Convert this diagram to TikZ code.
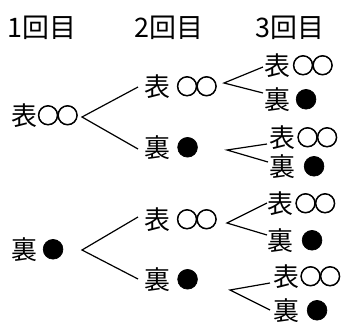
\documentclass[tikz,border=0pt]{standalone}
\usepackage{fontspec}
\setmainfont{Noto Sans CJK JP}
\newfontfamily\circfont[FakeBold=3]{Noto Sans CJK JP}
\newcommand\csz{\circfont\fontsize{22}{22}\selectfont}
\newcommand\omaru{{\csz\raisebox{1.4bp}{○\kern-2.4bp○}}}
\newcommand\kmaru{{\csz\raisebox{1.4bp}{●}}}
\begin{document}
\begin{tikzpicture}[x=1bp,y=-1bp,
  lbl/.style={inner sep=0pt, anchor=west, text height=23bp, text depth=3bp,
    font=\fontsize{26}{26}\selectfont},
  hdr/.style={lbl, font=\fontsize{27}{27}\selectfont},
  conn/.style={line width=1.2bp}]
\useasboundingbox (0,0) rectangle (343,322);
% headers
\node[hdr] (h1) at (7,27) {1回目};
\node[hdr] (h2) at (134,27) {2回目};
\node[hdr] (h3) at (255,27) {3回目};
% level 1
\node[lbl] (a) at (11,115) {表\omaru};
\node[lbl] (b) at (11,249) {裏\kern5bp\kmaru};
% level 2
\node[lbl] (aa) at (144,86) {表\kern6bp\omaru};
\node[lbl] (ab) at (144,147) {裏\kern6.5bp\kmaru};
\node[lbl] (ba) at (144,219) {表\kern6bp\omaru};
\node[lbl] (bb) at (144,279) {裏\kern6.5bp\kmaru};
% level 3
\node[lbl] (aaa) at (264,65) {表\kern2bp\omaru};
\node[lbl] (aab) at (264,99) {裏\kern5bp\kmaru};
\node[lbl] (aba) at (269,137) {表\kern1.5bp\omaru};
\node[lbl] (abb) at (269,166) {裏\kern8bp\kmaru};
\node[lbl] (baa) at (267,203) {表\kern1.5bp\omaru};
\node[lbl] (bab) at (267,240) {裏\kern8bp\kmaru};
\node[lbl] (bba) at (273,276) {表\kern0.5bp\omaru};
\node[lbl] (bbb) at (273,310) {裏\kern7bp\kmaru};
% connector tips
\coordinate (ta) at (82,117);
\coordinate (tb) at (82,250);
\coordinate (taa) at (224,83);
\coordinate (tab) at (227,150);
\coordinate (tba) at (227,223);
\coordinate (tbb) at (230,290);
% connectors
\draw[conn] ([xshift=-6bp,yshift=-1bp]aa.west) -- (ta) -- ([xshift=-6bp,yshift=-2bp]ab.west);
\draw[conn] ([xshift=-6bp,yshift=2bp]ba.west) -- (tb) -- ([xshift=-6bp]bb.west);
\draw[conn] ([xshift=-1bp,yshift=-2bp]aaa.west) -- (taa) -- ([xshift=-1bp,yshift=6bp]aab.west);
\draw[conn] ([xshift=-2bp,yshift=-7bp]aba.west) -- (tab) -- ([xshift=-1bp,yshift=4bp]abb.west);
\draw[conn] (baa.west) -- (tba) -- ([yshift=5bp]bab.west);
\draw[conn] ([xshift=-3bp,yshift=-7bp]bba.west) -- (tbb) -- ([xshift=-3bp]bbb.west);
\end{tikzpicture}
\end{document}
